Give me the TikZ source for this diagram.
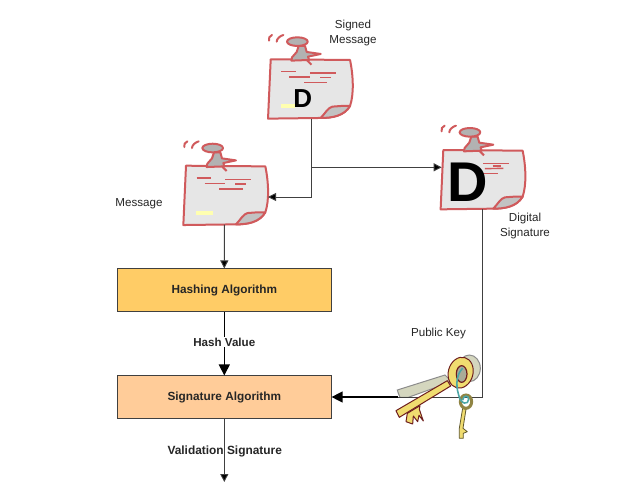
\documentclass[tikz,border=0pt]{standalone}
\usepackage{fontspec}
\setmainfont{Liberation Sans}
\usetikzlibrary{arrows.meta}
\definecolor{notered}{HTML}{D05A5C}
\definecolor{notegrey}{HTML}{E6E6E6}
\definecolor{pingrey}{HTML}{B2B2B2}
\definecolor{noteyellow}{HTML}{FFFFB0}
\definecolor{keygold}{HTML}{F0DC70}
\definecolor{keydark}{HTML}{6E1E1E}
\definecolor{keyshadow}{HTML}{D4D6BE}
\definecolor{hashfill}{HTML}{FFCC66}
\definecolor{sigfill}{HTML}{FFCC99}
\tikzset{
  holder/.style={inner sep=0pt,minimum width=84pt,minimum height=59pt},
  lab/.style={inner sep=1pt,font=\fontsize{11.6}{15}\selectfont,align=center,text=black!85},
  blab/.style={inner sep=1pt,font=\fontsize{11.6}{15}\selectfont\bfseries,fill=white,text=black!85},
  algo/.style={draw=black!75,line width=1pt,minimum width=214pt,minimum height=42.7pt,inner sep=0pt,font=\fontsize{11.8}{14}\selectfont\bfseries,text=black!85},
  conn/.style={draw=black!75,line width=.9pt},
  arr/.style={conn,-{Triangle[length=8pt,width=8pt,fill=black]}},
  bigarr/.style={draw=black,line width=1.3pt,-{Triangle[length=11pt,width=11pt,fill=black]}},
  redline/.style={draw=notered,line width=1.4pt},
  paperline/.style={draw=notered,line width=2pt,line join=round}
}
\newcommand{\NotePaper}[3]{%
 \begin{scope}[shift={(#1,#2)},x=.3333pt,y=-.3333pt]
  \draw[paperline,fill=notegrey] (0,0) -- (238,2) .. controls (248,50) and (250,105) .. (238,140)
     .. controls (220,170) and (185,176) .. (150,176) -- (-8,178) -- cycle;
  \draw[paperline,fill=pingrey!70!notegrey] (150,176) .. controls (165,160) and (172,145) .. (185,142)
     -- (212,140) -- (238,140) .. controls (220,170) and (185,176) .. (150,176) -- cycle;
  #3
  % needle
  \draw[paperline] (108,2) -- (122,16);
  % pin
  \draw[paperline,fill=pingrey] (84,-40) -- (78,-22) -- (64,-6) -- (62,4) -- (115,2)
     -- (112,-8) -- (150,-16) -- (108,-22) -- (103,-40) -- cycle;
  \draw[paperline,fill=pingrey] (80,-53) ellipse [x radius=31,y radius=13];
  % motion marks
  \draw[paperline,line cap=round] (-5,-56) .. controls (-8,-63) and (-3,-70) .. (4,-73);
  \draw[paperline,line cap=round] (18,-53) .. controls (18,-62) and (28,-70) .. (38,-73);
 \end{scope}}
\newcommand{\NoteLines}{%
  \draw[redline] (32,37) -- (76,37);
  \draw[redline] (118,41) -- (196,41);
  \draw[redline] (56,53) -- (118,53);
  \draw[redline] (148,55) -- (180,55);
  \draw[redline] (100,70) -- (170,70);}
\begin{document}
\begin{tikzpicture}[x=1pt,y=-1pt]
\useasboundingbox[fill=white] (0,0) rectangle (637,490);
% notes
\NotePaper{270.7}{59.3}{\NoteLines\fill[noteyellow] (30,135) rectangle (73,147);}
\NotePaper{186}{165.7}{\NoteLines\fill[noteyellow] (30,135) rectangle (80,148);}
\NotePaper{443.3}{150}{%
  \draw[redline] (120,40) -- (196,40);
  \draw[redline] (125,56) -- (180,55);
  \draw[redline] (148,48) -- (172,48);
  \draw[redline] (120,70) -- (165,70);}
\node[holder] (sm) at (311,89) {};
\node[holder] (msg) at (224.4,195) {};
\node[holder] (dig) at (482.2,179.5) {};
\node[inner sep=0pt,font=\fontsize{26}{26}\selectfont\bfseries] (dsmall) at (302.7,99) {D};
\node[inner sep=0pt,font=\fontsize{56}{56}\selectfont\bfseries] (dbig) at (467.5,182.5) {D};
% boxes
\node[algo,fill=hashfill] (hash) at (224.3,290.3) {Hashing Algorithm};
\node[algo,fill=sigfill] (sig) at (224.3,397.3) {Signature Algorithm};
\coordinate (msgin) at (268,197);
\coordinate (digin) at (441.7,167.3);
\coordinate (bend) at (482.2,397);
\coordinate (keysin) at (398,397);
\coordinate (sigin) at (331.6,397);
\coordinate (out) at (224.3,482);
% shadow key, behind the connector
\begin{scope}[shift={(370,340)},x=.3333pt,y=-.3333pt]
  \draw[draw=black!45,fill=keyshadow,line width=1pt] (85,160) -- (82,150) -- (225,105) -- (245,125) -- (115,172) -- (90,172) -- cycle;
  \draw[draw=black!45,fill=keyshadow,line width=1pt] (298,85) ellipse [x radius=33,y radius=40];
\end{scope}
% connectors
\draw[arr] (sm.south) |- (msgin);
\draw[arr] (sm.south |- digin) -- (digin);
\draw[arr] (msg.south) -- (hash.north);
\draw[conn] (dig.south) -- (bend) -- (keysin);
\draw[bigarr] (keysin) -- (sigin);
\draw[bigarr] (hash.south) -- (sig.north) node[blab,pos=.47] (hv) {Hash Value};
\draw[arr] (sig.south) -- (out);
% labels
\node[lab] (lsm) at (353,33) {Signed\\Message};
\node[lab] (lm) at (139,204) {Message};
\node[lab] (lds) at (525,226) {Digital\\Signature};
\node[lab] (lpk) at (438.5,333) {Public Key};
\node[inner sep=0pt,font=\fontsize{11.9}{14}\selectfont\bfseries,text=black!85] (lvs) at (224.7,451.5) {Validation Signature};
% keys
\begin{scope}[shift={(370,340)},x=.3333pt,y=-.3333pt]
  % main key
  \draw[draw=keydark,fill=keygold,line width=1pt,line join=round]
     (112,220) -- (150,197) -- (148,208) -- (160,243) -- (147,226) -- (143,245) -- (130,228) -- (128,252) -- (108,245) -- cycle;
  \draw[draw=keydark,fill=keygold,line width=1pt,line join=round]
     (78,212) -- (232,122) -- (242,138) -- (88,232) -- cycle;
  \draw[draw=keydark,fill=keygold,line width=1pt,rotate around={-15:(272,98)}] (272,98) ellipse [x radius=37,y radius=47];
  \draw[draw=keydark,fill=keyshadow!80!black,line width=1.2pt] (275,102) ellipse [x radius=16,y radius=25];
  % small key
  \draw[draw=black!60!keygold,fill=keygold,line width=.8pt,line join=round]
     (278,205) -- (288,208) -- (279,265) -- (292,275) -- (280,280) -- (280,295) -- (268,295) -- (268,265) -- cycle;
  \draw[draw=keygold!60!black,line width=3pt] (288,185) ellipse [x radius=17,y radius=20];
  % chain
  \draw[draw=teal!70!white,line width=1.6pt] (278,85) .. controls (262,100) and (255,130) .. (266,165) .. controls (272,195) and (296,195) .. (296,178) .. controls (296,165) and (280,165) .. (278,180);
\end{scope}
\end{tikzpicture}
\end{document}
